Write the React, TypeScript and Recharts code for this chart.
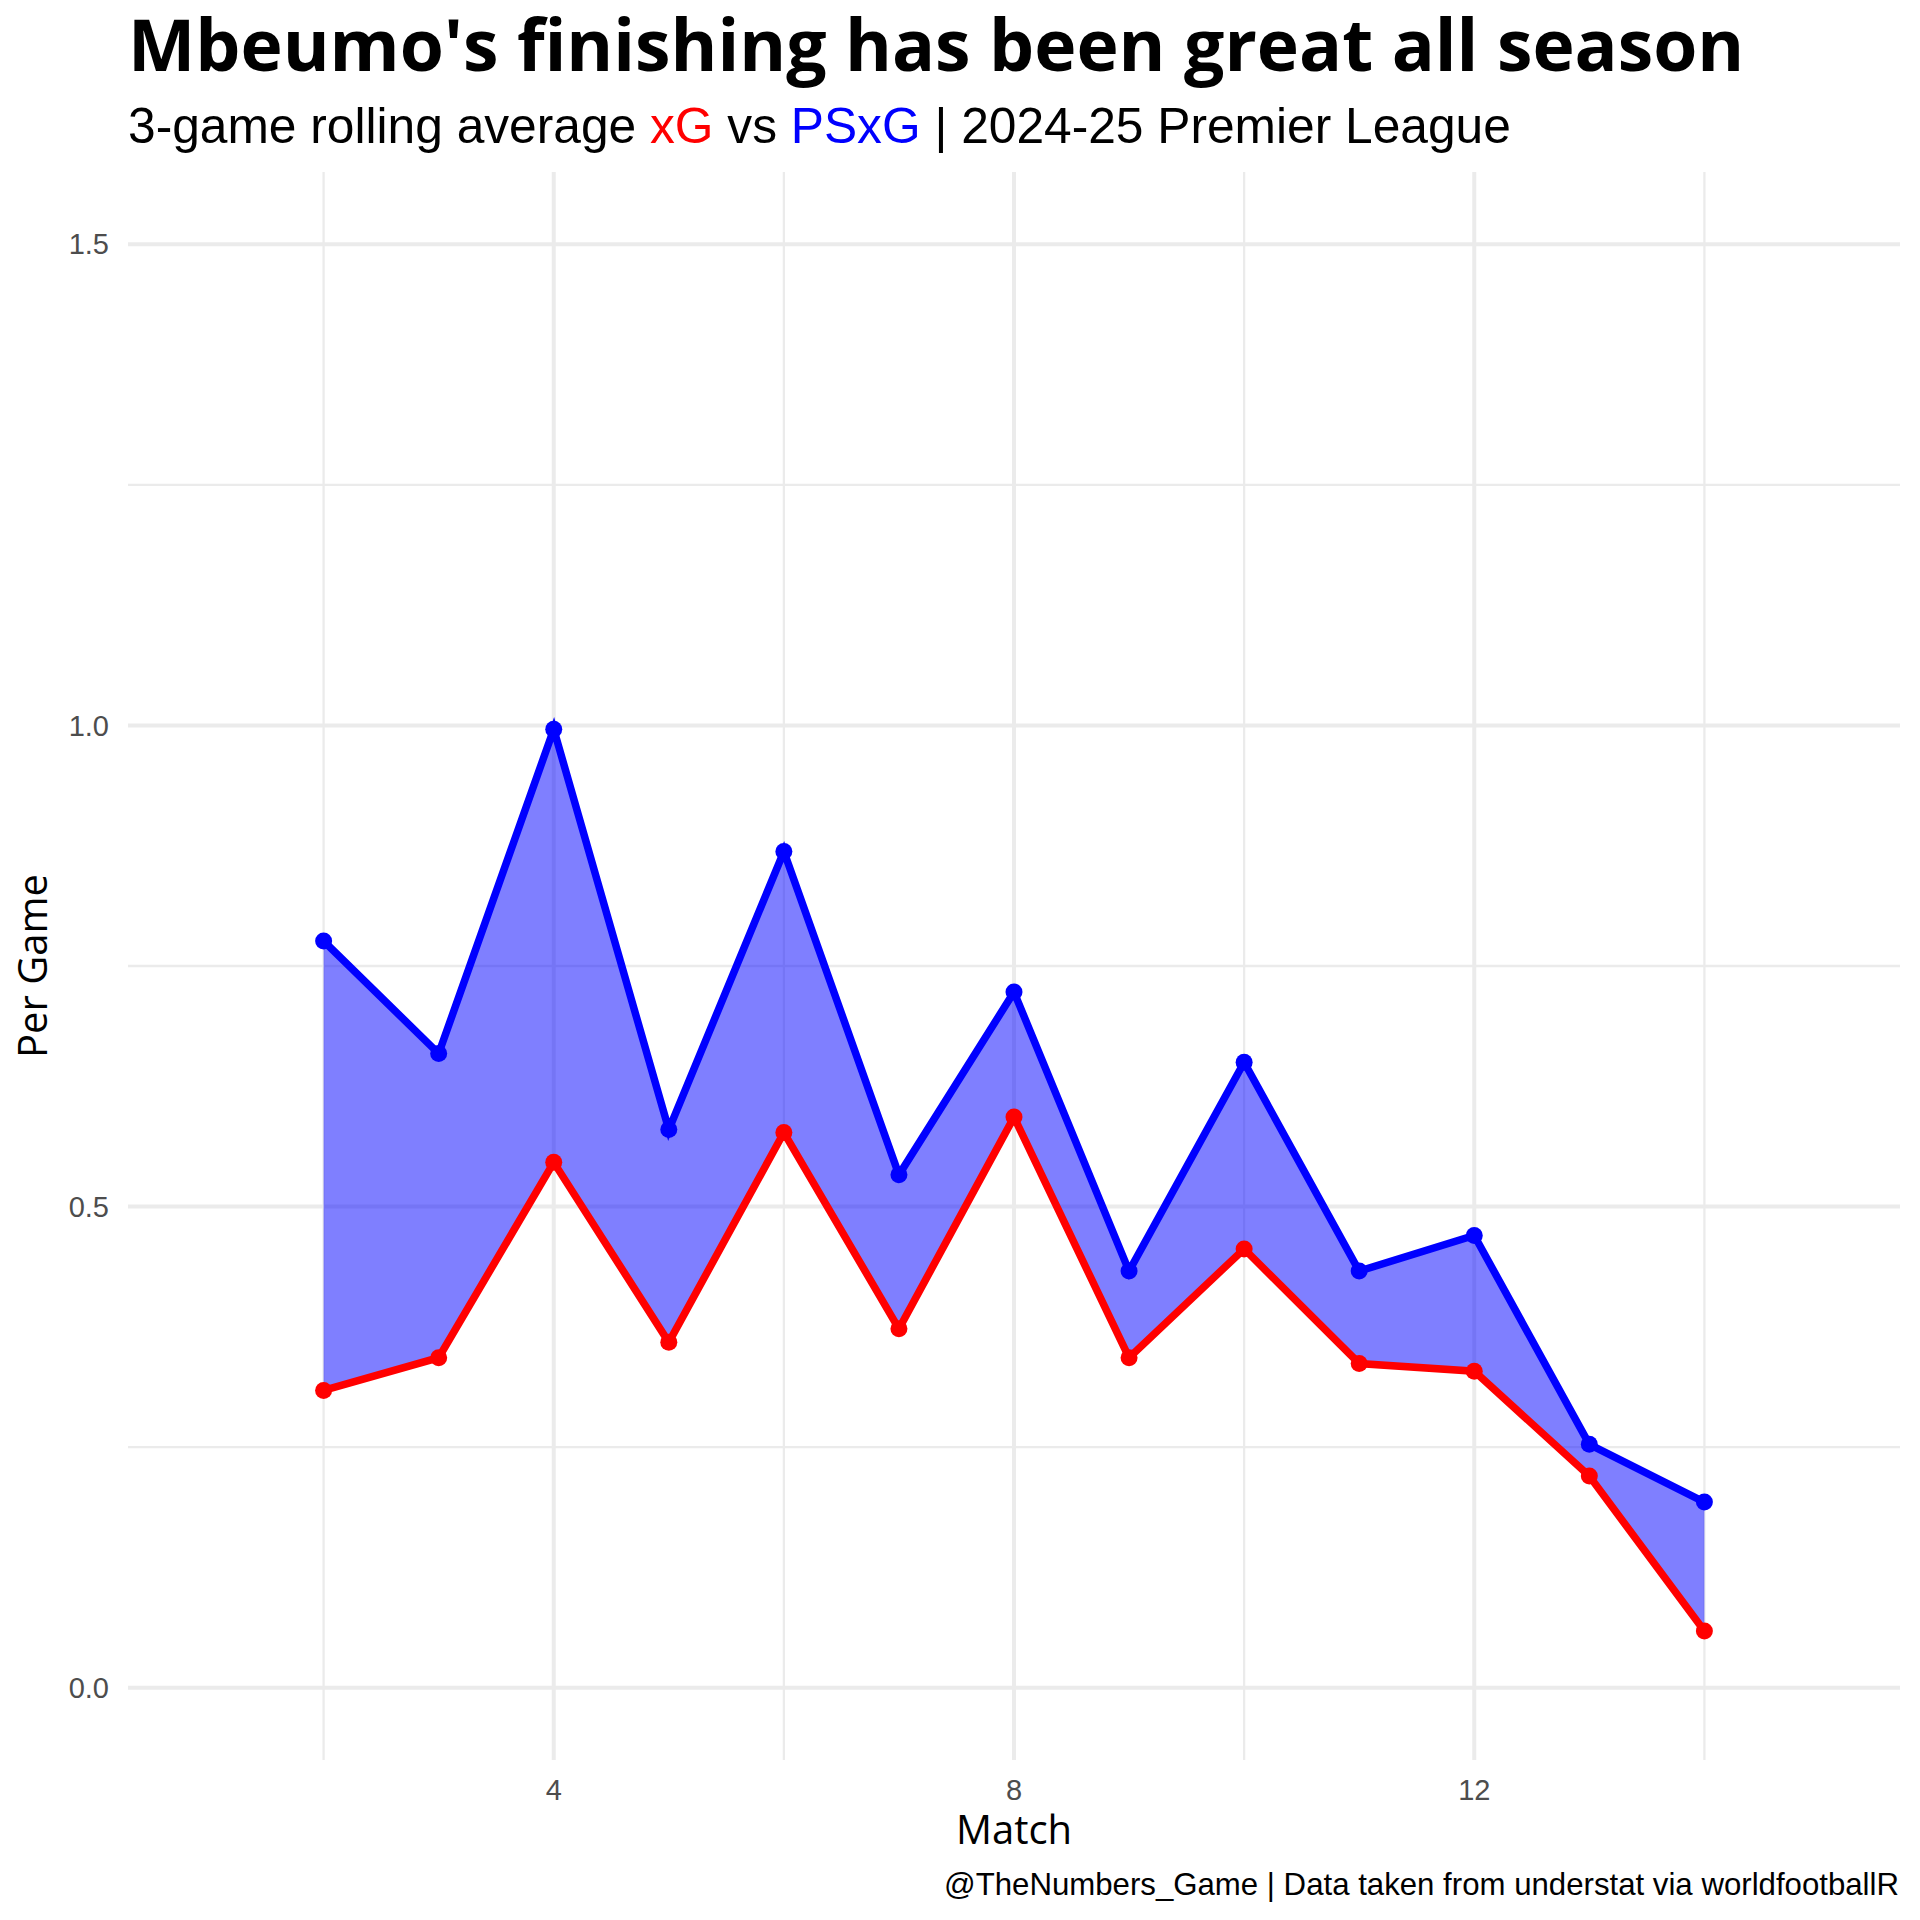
import {
  ComposedChart, Area, Line, XAxis, YAxis, CartesianGrid,
} from "recharts";

// 3-game rolling averages, matches 2-14
const matches = [2, 3, 4, 5, 6, 7, 8, 9, 10, 11, 12, 13, 14];
const xgValues = [0.309, 0.343, 0.546, 0.359, 0.577, 0.373, 0.593, 0.343, 0.456, 0.337, 0.329, 0.22, 0.059];
const psxgValues = [0.776, 0.659, 0.996, 0.58, 0.869, 0.533, 0.723, 0.433, 0.65, 0.433, 0.47, 0.253, 0.193];

const xTicks = [4, 8, 12];
const yTicks = [0, 0.5, 1.0, 1.5];
const xMinor = [2, 6, 10, 14];
const yMinor = [0.25, 0.75, 1.25];

const data = matches.map((m, i) => ({
  match: m,
  xg: xgValues[i],
  psxg: psxgValues[i],
}));

const SANS = "'Liberation Sans', Arial, sans-serif";
const OPEN = "'Open Sans', sans-serif";
const GRID = "#EBEBEB";

export default function App() {
  return (
    <div style={{ position: "absolute", left: 0, top: 0, width: 1920, height: 1920, background: "#fff" }}>
      <ComposedChart
        width={1920}
        height={1920}
        data={data}
        margin={{ top: 172, left: 0, right: 20, bottom: 0 }}
      >
        <CartesianGrid stroke={GRID} strokeWidth={2.3} horizontalValues={yMinor} verticalValues={xMinor} />
        <CartesianGrid stroke={GRID} strokeWidth={4} horizontalValues={yTicks} verticalValues={xTicks} />
        <XAxis
          dataKey="match"
          type="number"
          domain={[0.3, 15.7]}
          ticks={xTicks}
          allowDataOverflow
          axisLine={false}
          tickLine={false}
          tickSize={0}
          tickMargin={19}
          height={160}
          tick={{ fontFamily: SANS, fontSize: 29, fill: "#4D4D4D" }}
        />
        <YAxis
          type="number"
          domain={[-0.075, 1.575]}
          ticks={yTicks}
          allowDataOverflow
          axisLine={false}
          tickLine={false}
          tickSize={0}
          tickMargin={19}
          width={128}
          tickFormatter={(v: number) => v.toFixed(1)}
          tick={{ fontFamily: SANS, fontSize: 29, fill: "#4D4D4D" }}
        />
        <Area
          dataKey={(d: any) => [d.xg, d.psxg]}
          type="linear"
          fill="#0000FF"
          fillOpacity={0.5}
          stroke="none"
          isAnimationActive={false}
          activeDot={false}
        />
        <Line
          dataKey="xg"
          type="linear"
          stroke="#FF0000"
          strokeWidth={7.5}
          dot={{ r: 8.5, fill: "#FF0000", stroke: "none" }}
          activeDot={false}
          isAnimationActive={false}
        />
        <Line
          dataKey="psxg"
          type="linear"
          stroke="#0000FF"
          strokeWidth={7.5}
          dot={{ r: 8.5, fill: "#0000FF", stroke: "none" }}
          activeDot={false}
          isAnimationActive={false}
        />
        <text x={128} y={71} fontFamily={OPEN} fontWeight={700} fontSize={71.4} fill="#000">
          Mbeumo's finishing has been great all season
        </text>
        <text x={128} y={143} fontFamily={SANS} fontSize={49.7} fill="#000">
          3-game rolling average <tspan fill="#FF0000">xG</tspan> vs <tspan fill="#0000FF">PSxG</tspan> | 2024-25 Premier League
        </text>
        <text transform="translate(47,966) rotate(-90)" textAnchor="middle" fontFamily={OPEN} fontSize={40} fill="#000">
          Per Game
        </text>
        <text x={1014} y={1844} textAnchor="middle" fontFamily={OPEN} fontSize={40} fill="#000">
          Match
        </text>
        <text x={1899} y={1895} textAnchor="end" fontFamily={SANS} fontSize={31.2} fill="#000">
          @TheNumbers_Game | Data taken from understat via worldfootballR
        </text>
      </ComposedChart>
    </div>
  );
}
